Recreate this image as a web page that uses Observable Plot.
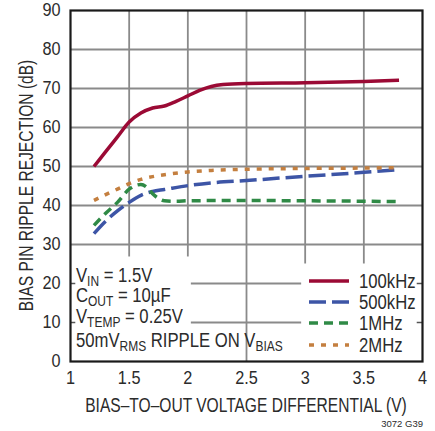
<!DOCTYPE html>
<html>
<head>
<meta charset="utf-8">
<script src="https://cdn.jsdelivr.net/npm/d3@7"></script>
<script src="https://cdn.jsdelivr.net/npm/@observablehq/plot@0.6"></script>
<style>
  html, body { margin: 0; padding: 0; background: #fff; }
  #chart { width: 435px; height: 431px; }
</style>
</head>
<body>
<div id="chart"></div>
<script>
// ---- data ----
const x100k = [1.2, 1.3, 1.4, 1.5, 1.6, 1.7, 1.8, 1.9, 2.0, 2.1, 2.2, 2.3, 2.5, 3.0, 3.5, 3.8];
const y100k = [50, 53.8, 57.6, 61.4, 63.7, 65.0, 65.5, 66.7, 68.1, 69.5, 70.5, 71.0, 71.3, 71.5, 71.8, 72.1];

const x500k = [1.2, 1.3, 1.4, 1.5, 1.6, 1.7, 1.8, 2.0, 2.2, 2.5, 3.0, 3.5, 3.8];
const y500k = [32.8, 36.0, 38.6, 40.8, 42.6, 43.6, 44.1, 45.1, 45.8, 46.4, 47.5, 48.5, 49.2];

const x1M = [1.2, 1.3, 1.4, 1.5, 1.6, 1.65, 1.7, 1.75, 1.8, 1.9, 2.0, 2.5, 3.0, 3.5, 3.8];
const y1M = [34.9, 38.0, 40.8, 44.2, 45.4, 44.7, 43.0, 41.8, 41.2, 41.1, 41.2, 41.3, 41.2, 41.1, 41.0];

const x2M = [1.2, 1.3, 1.4, 1.5, 1.6, 1.7, 1.8, 2.0, 2.2, 2.5, 3.0, 3.5, 3.8];
const y2M = [41.3, 42.8, 44.2, 45.6, 46.7, 47.4, 47.9, 48.6, 49.0, 49.3, 49.5, 49.6, 49.7];

const seriesNames = ["100kHz", "500kHz", "1MHz", "2MHz"];
const seriesColors = ["#9b0a35", "#3d55a6", "#2f8a46", "#c47f3f"];
const seriesDash = [null, "17,6", "9,6", "5,7"];

const xTicks = [1, 1.5, 2, 2.5, 3, 3.5, 4];
const yTicks = [0, 10, 20, 30, 40, 50, 60, 70, 80, 90];
const gridX = [1.5, 2, 2.5, 3, 3.5];
const gridY = [10, 20, 30, 40, 50, 60, 70, 80];

// white boxes behind the notes and legend
const noteBoxes = [
  {x1: 1.0, x2: 2.03, y1: 0, y2: 26.8},
  {x1: 2.97, x2: 4.0, y1: 0, y2: 25.0}
];

const notes = [
  [["V", ""], ["IN", "sub"], [" = 1.5V", ""]],
  [["C", ""], ["OUT", "sub"], [" = 10µF", ""]],
  [["V", ""], ["TEMP", "sub"], [" = 0.25V", ""]],
  [["50mV", ""], ["RMS", "sub"], [" RIPPLE ON V", ""], ["BIAS", "sub"]]
];

const xLabel = "BIAS–TO–OUT VOLTAGE DIFFERENTIAL (V)";
const yLabel = "BIAS PIN RIPPLE REJECTION (dB)";
const figId = "3072 G39";

const seriesX = [x100k, x500k, x1M, x2M];
const seriesY = [y100k, y500k, y1M, y2M];
const rows = [];
seriesNames.forEach((name, i) => {
  seriesX[i].forEach((x, j) => rows.push({series: name, x, y: seriesY[i][j]}));
});

const FONT = "'Liberation Sans', Arial, sans-serif";
const INK = "#2b2b2b";
const FS_TICK = 17.5;
const FS = 19.5;

const lineMarks = seriesNames.map((name, i) =>
  Plot.line(rows.filter(d => d.series === name), {
    x: "x", y: "y", curve: "monotone-x",
    stroke: seriesColors[i], strokeWidth: 3.5,
    strokeDasharray: seriesDash[i] || undefined,
    strokeLinecap: "butt"
  })
);

const plot = Plot.plot({
  width: 435,
  height: 431,
  marginLeft: 70,
  marginRight: 13,
  marginTop: 10,
  marginBottom: 70,
  style: {fontFamily: FONT, color: INK, background: "#fff"},
  x: {domain: [1, 4], label: null},
  y: {domain: [0, 90], label: null},
  marks: [
    Plot.ruleY(gridY, {stroke: "#8a8a8a", strokeWidth: 1.8}),
    Plot.ruleX(gridX, {stroke: "#8a8a8a", strokeWidth: 1.8}),
    Plot.rect(noteBoxes, {x1: "x1", x2: "x2", y1: "y1", y2: "y2", fill: "#fff"}),
    Plot.ruleY([10, 20], {x1: 1, x2: 1.045, stroke: "#555", strokeWidth: 1.5}),
    Plot.ruleY([10, 20], {x1: 3.955, x2: 4, stroke: "#555", strokeWidth: 1.5}),
    Plot.axisX({ticks: xTicks, tickFormat: d => String(d), tickSize: 0, tickPadding: 10, fontSize: FS_TICK, label: null}),
    Plot.axisY({ticks: yTicks, tickSize: 0, tickPadding: 10, fontSize: FS_TICK, label: null}),
    ...lineMarks,
    Plot.frame({stroke: "#1a1a1a", strokeWidth: 2.2})
  ]
});

document.getElementById("chart").appendChild(plot);

const svg = d3.select(plot);
const sx = plot.scale("x");
const sy = plot.scale("y");
const X = v => sx.apply(v);
const Y = v => sy.apply(v);

// slightly condense the tick labels (reference uses a condensed face)
svg.selectAll("g[aria-label$='tick label'] text").each(function() {
  const tr = this.getAttribute("transform") || "";
  this.setAttribute("transform", tr + " scale(0.93,1)");
});

// helper: condensed text group
function condensed(x, y, anchor, rotate, factor) {
  const g = svg.append("g")
    .attr("transform", `translate(${x},${y})${rotate ? " rotate(" + rotate + ")" : ""} scale(${factor},1)`);
  return g.append("text")
    .attr("text-anchor", anchor)
    .attr("font-family", FONT).attr("font-size", FS).attr("fill", INK);
}

// condense factor from the x label's width in the reference (~320px)
const probe = svg.append("text").attr("font-family", FONT).attr("font-size", FS).text(xLabel);
const natural = probe.node().getComputedTextLength();
probe.remove();
const K = Math.min(1, 322 / natural);

// axis labels
condensed((X(1) + X(4)) / 2, 412, "middle", 0, K).text(xLabel);
condensed(33, (Y(0) + Y(90)) / 2, "middle", -90, K).text(yLabel);

svg.append("text")
  .attr("x", 423).attr("y", 427)
  .attr("text-anchor", "end")
  .attr("font-family", FONT).attr("font-size", 9.5).attr("fill", INK)
  .text(figId);

// notes with subscripts (condensed so the last line spans ~207px like the reference)
const noteBaselines = [282, 302, 323, 347];
const noteTexts = notes.map((parts, i) => {
  const t = condensed(76, noteBaselines[i], "start", 0, 1);
  parts.forEach(([s, kind], k) => {
    const prev = k > 0 ? parts[k - 1][1] : "";
    let dy = 0;
    if (kind === "sub" && prev !== "sub") dy = 4;
    if (kind !== "sub" && prev === "sub") dy = -4;
    const ts = t.append("tspan").attr("dy", dy).text(s);
    if (kind === "sub") ts.attr("font-size", 14);
  });
  return t;
});
const lastW = noteTexts[3].node().getComputedTextLength();
const KN = Math.min(1, 207 / lastW);
noteTexts.forEach((t, i) => {
  d3.select(t.node().parentNode).attr("transform", `translate(76,${noteBaselines[i]}) scale(${KN},1)`);
});

// legend
const legendRows = [281, 302, 323, 345];
seriesNames.forEach((name, i) => {
  svg.append("line")
    .attr("x1", 309).attr("x2", 349)
    .attr("y1", legendRows[i]).attr("y2", legendRows[i])
    .attr("stroke", seriesColors[i]).attr("stroke-width", 3.5)
    .attr("stroke-dasharray", seriesDash[i]);
  condensed(359, legendRows[i] + 7, "start", 0, KN).text(name);
});
</script>
</body>
</html>
